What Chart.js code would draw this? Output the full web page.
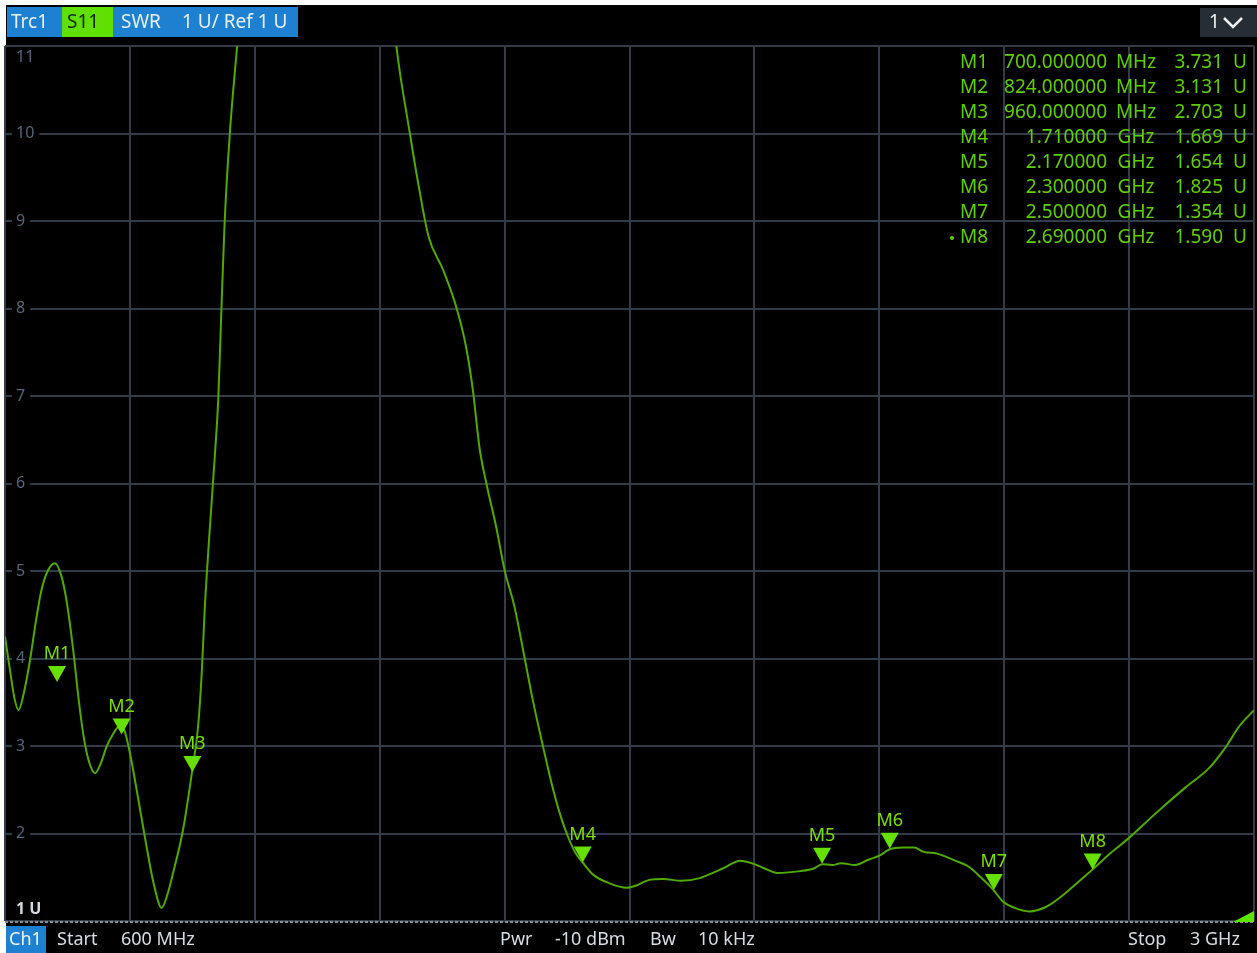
<!DOCTYPE html>
<html>
<head>
<meta charset="utf-8">
<script src="https://cdn.jsdelivr.net/npm/chart.js@4.4.1/dist/chart.umd.min.js"></script>
<style>
  html, body { margin: 0; padding: 0; background: #ffffff; overflow: hidden; }
  #wrap { position: absolute; left: 0; top: 0; width: 1257px; height: 953px; }
  canvas { display: block; }
</style>
</head>
<body>
<div id="wrap"><canvas id="c" width="1257" height="953"></canvas></div>
<script>
// S11 SWR trace, frequency in MHz
const traceFreqMHz = [
  600, 610, 618, 626, 636, 648, 660, 670, 682, 696, 708, 718, 731, 741, 750, 760, 773, 784, 795, 808,
  820, 828, 840, 853, 872, 886, 901, 912, 923, 942, 960, 971, 978, 984, 992, 1003, 1010, 1016, 1022, 1032,
  1046, 1080, 1150, 1250, 1320, 1352, 1378, 1394, 1414, 1442, 1467, 1486, 1499, 1512, 1525, 1544, 1560, 1579, 1598, 1614,
  1634, 1650, 1666, 1682, 1696, 1710, 1730, 1762, 1794, 1815, 1838, 1865, 1899, 1935, 1960, 1979, 2013, 2040, 2060, 2084,
  2128, 2154, 2170, 2190, 2207, 2233, 2259, 2281, 2300, 2325, 2347, 2365, 2391, 2410, 2426, 2452, 2475, 2500, 2518, 2540,
  2568, 2600, 2638, 2665, 2690, 2725, 2760, 2811, 2869, 2914, 2946, 2971, 3000
];
const traceSwr = [
  4.25, 3.85, 3.55, 3.41, 3.60, 3.98, 4.45, 4.78, 5.00, 5.09, 4.95, 4.67, 4.10, 3.56, 3.15, 2.85, 2.69, 2.80, 2.99, 3.14,
  3.23, 3.20, 2.92, 2.50, 1.85, 1.42, 1.15, 1.30, 1.55, 2.04, 2.73, 3.22, 3.83, 4.59, 5.35, 6.30, 6.99, 8.02, 8.98, 10.00,
  11.00, 13.50, 16.50, 16.00, 13.00, 11.00, 10.00, 9.43, 8.82, 8.44, 8.02, 7.56, 7.07, 6.40, 6.00, 5.50, 5.01, 4.59, 4.02, 3.53,
  2.99, 2.58, 2.23, 1.96, 1.78, 1.67, 1.53, 1.43, 1.38, 1.41, 1.47, 1.48, 1.46, 1.49, 1.55, 1.60, 1.69, 1.65, 1.60, 1.55,
  1.57, 1.60, 1.65, 1.64, 1.66, 1.64, 1.70, 1.75, 1.82, 1.84, 1.84, 1.79, 1.77, 1.73, 1.69, 1.62, 1.50, 1.35, 1.22, 1.15,
  1.11, 1.16, 1.32, 1.46, 1.59, 1.78, 1.95, 2.23, 2.53, 2.75, 2.99, 3.22, 3.41
];

// Markers
const markerNames = ['M1', 'M2', 'M3', 'M4', 'M5', 'M6', 'M7', 'M8'];
const markerFreqMHz = [700, 824, 960, 1710, 2170, 2300, 2500, 2690];
const markerSwr = [3.731, 3.131, 2.703, 1.669, 1.654, 1.825, 1.354, 1.590];

// Axis settings
const startMHz = 600;
const stopMHz = 3000;
const xDivisions = 10;
const yTickValues = [1, 2, 3, 4, 5, 6, 7, 8, 9, 10, 11];
const yTickLabels = ['1 U', '2', '3', '4', '5', '6', '7', '8', '9', '10', '11'];

// Header / footer texts
const headerItems = ['Trc1', 'S11', 'SWR', '1 U/ Ref 1 U'];
const footerItems = ['Ch1', 'Start', '600 MHz', 'Pwr', '-10 dBm', 'Bw', '10 kHz', 'Stop', '3 GHz'];

const FONT = '"Noto Sans", "Open Sans", sans-serif';
const xGridMHz = [];
for (let k = 0; k <= xDivisions; k++) xGridMHz.push(startMHz + (stopMHz - startMHz) * k / xDivisions);

function freqText(f) {
  return f < 1000 ? { num: f.toFixed(6), unit: 'MHz' } : { num: (f / 1000).toFixed(6), unit: 'GHz' };
}

const screenPlugin = {
  id: 'vnaScreen',
  beforeDraw(chart) {
    const ctx = chart.ctx;
    ctx.save();
    ctx.fillStyle = '#ffffff';
    ctx.fillRect(0, 0, chart.width, chart.height);
    ctx.fillStyle = '#000000';
    ctx.fillRect(6, 5, chart.width - 6, chart.height - 5);
    ctx.restore();
  },
  beforeDatasetsDraw(chart) {
    const ctx = chart.ctx;
    const ys = chart.scales.y;
    const left = chart.chartArea.left;
    ctx.save();
    ctx.font = '16px ' + FONT;
    ctx.textBaseline = 'middle';
    ctx.textAlign = 'left';
    yTickValues.forEach((v, i) => {
      const label = yTickLabels[i];
      let py = ys.getPixelForValue(v);
      if (i === yTickValues.length - 1) py += 11;
      if (i === 0) {
        py -= 12;
        ctx.font = 'bold 16px ' + FONT;
        ctx.fillStyle = '#d3d9de';
        ctx.fillText(label, left + 11, py);
        ctx.font = '16px ' + FONT;
        return;
      }
      const w = ctx.measureText(label).width;
      ctx.fillStyle = '#000000';
      ctx.fillRect(left + 7, py - 9, w + 9, 18);
      ctx.fillStyle = '#56677b';
      ctx.fillText(label, left + 11, py);
    });
    ctx.restore();
  },
  afterDatasetsDraw(chart) {
    const ctx = chart.ctx;
    const xs = chart.scales.x, ys = chart.scales.y;
    const area = chart.chartArea;
    ctx.save();

    // bottom dotted reference line
    ctx.strokeStyle = '#858d95';
    ctx.lineWidth = 2;
    ctx.setLineDash([3, 2]);
    ctx.beginPath();
    ctx.moveTo(area.left, area.bottom + 1);
    ctx.lineTo(area.right, area.bottom + 1);
    ctx.stroke();
    ctx.setLineDash([]);

    // corner triangle
    ctx.fillStyle = '#5ce600';
    ctx.beginPath();
    ctx.moveTo(area.right - 21, area.bottom + 1);
    ctx.lineTo(area.right, area.bottom + 1);
    ctx.lineTo(area.right, area.bottom - 10);
    ctx.closePath();
    ctx.fill();

    // marker triangles and names
    markerNames.forEach((name, i) => {
      const px = xs.getPixelForValue(markerFreqMHz[i]);
      const py = ys.getPixelForValue(markerSwr[i]);
      ctx.fillStyle = '#66e000';
      ctx.beginPath();
      ctx.moveTo(px - 9, py - 16);
      ctx.lineTo(px + 9, py - 16);
      ctx.lineTo(px, py);
      ctx.closePath();
      ctx.fill();
      ctx.font = '18px ' + FONT;
      ctx.textAlign = 'center';
      ctx.textBaseline = 'middle';
      ctx.fillStyle = '#7be000';
      ctx.fillText(name, px, py - 28);
    });

    // marker readout table
    ctx.font = '19px ' + FONT;
    ctx.textBaseline = 'middle';
    ctx.fillStyle = '#5fd000';
    markerNames.forEach((name, i) => {
      const ry = 63 + 25 * i;
      const ft = freqText(markerFreqMHz[i]);
      ctx.textAlign = 'left';
      ctx.fillText(name, 960, ry);
      ctx.textAlign = 'right';
      ctx.fillText(ft.num, 1107, ry);
      ctx.textAlign = 'center';
      ctx.fillText(ft.unit, 1136, ry);
      ctx.textAlign = 'right';
      ctx.fillText(markerSwr[i].toFixed(3), 1223, ry);
      ctx.textAlign = 'center';
      ctx.fillText('U', 1240, ry);
    });
    ctx.beginPath();
    ctx.arc(952, 63 + 25 * 7, 2, 0, Math.PI * 2);
    ctx.fill();

    // header trace label
    ctx.fillStyle = '#1e80d0';
    ctx.fillRect(7, 7, 291, 30);
    ctx.fillStyle = '#5fe000';
    ctx.fillRect(62, 7, 51, 30);
    ctx.font = '19px ' + FONT;
    ctx.textAlign = 'left';
    ctx.textBaseline = 'middle';
    const hx = [11, 67, 121, 182];
    headerItems.forEach((t, i) => {
      ctx.fillStyle = i === 1 ? '#0c2400' : '#e8f0fa';
      ctx.fillText(t, hx[i], 23);
    });

    // channel selector button
    ctx.fillStyle = '#262d35';
    ctx.fillRect(1200, 8, 57, 29);
    ctx.fillStyle = '#f0f0f0';
    ctx.fillText('1', 1209, 23);
    ctx.strokeStyle = '#f0f0f0';
    ctx.lineWidth = 2.5;
    ctx.beginPath();
    ctx.moveTo(1224, 18);
    ctx.lineTo(1233, 27);
    ctx.lineTo(1242, 18);
    ctx.stroke();

    // footer
    ctx.fillStyle = '#1e80d0';
    ctx.fillRect(6, 926, 40, 27);
    ctx.font = '18px ' + FONT;
    const fx = [9, 57, 121, 500, 555, 650, 698, 1128, 1190];
    footerItems.forEach((t, i) => {
      ctx.fillStyle = i === 0 ? '#eef4fb' : '#d8dde3';
      ctx.fillText(t, fx[i], 940);
    });

    ctx.restore();
  }
};

const points = traceFreqMHz.map((f, i) => ({ x: f, y: traceSwr[i] }));

new Chart(document.getElementById('c'), {
  type: 'line',
  data: {
    datasets: [{
      label: 'S11 SWR',
      data: points,
      borderColor: '#4fab00',
      borderWidth: 2,
      pointRadius: 0,
      fill: false,
      cubicInterpolationMode: 'monotone',
      clip: 0
    }]
  },
  options: {
    responsive: false,
    animation: false,
    devicePixelRatio: 1,
    layout: { padding: { left: 5, right: 3, top: 46, bottom: 32 } },
    plugins: { legend: { display: false }, tooltip: { enabled: false } },
    scales: {
      x: {
        type: 'linear',
        min: startMHz,
        max: stopMHz,
        afterBuildTicks: (s) => { s.ticks = xGridMHz.map(v => ({ value: v })); },
        ticks: { display: false },
        border: { display: false },
        grid: { color: '#313c48', lineWidth: 2, drawTicks: false }
      },
      y: {
        type: 'linear',
        min: 1,
        max: 11,
        afterBuildTicks: (s) => { s.ticks = yTickValues.map(v => ({ value: v })); },
        ticks: { display: false },
        border: { display: false },
        grid: { color: '#313c48', lineWidth: 2, drawTicks: false }
      }
    }
  },
  plugins: [screenPlugin]
});
</script>
</body>
</html>
